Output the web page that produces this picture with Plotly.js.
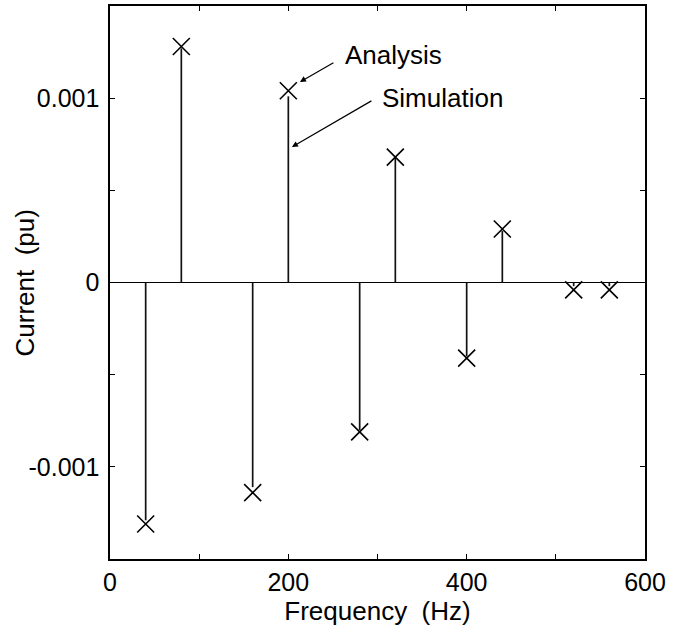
<!DOCTYPE html>
<html>
<head>
<meta charset="utf-8">
<script src="https://cdn.plot.ly/plotly-3.0.1.min.js"></script>
<style>html,body{margin:0;padding:0;background:#fff;}#chart{width:683px;height:631px;}</style>
</head>
<body>
<div id="chart"></div>
<script>
// Harmonic frequencies (Hz)
var frequency = [40, 80, 160, 200, 280, 320, 400, 440, 520, 560];
// Analysis values (pu) – X markers
var analysis = [-0.00131, 0.00128, -0.00114, 0.00104, -0.00081, 0.00068, -0.00041, 0.00029, -0.00004, -0.00004];
// Simulation values (pu) – stems
var simulation = [-0.00129, 0.00127, -0.00111, 0.00101, -0.00080, 0.00068, -0.00040, 0.00028, -0.00002, -0.00002];
// Y tick values and labels
var yTickVals = [-0.0015, -0.001, -0.0005, 0, 0.0005, 0.001, 0.0015];
var yTickText = ['', '-0.001', '', '0', '', '0.001', ''];
var xTickVals = [0, 100, 200, 300, 400, 500, 600];
var xTickText = ['0', '', '200', '', '400', '', '600'];

var stemX = [], stemY = [];
for (var i = 0; i < frequency.length; i++) {
  stemX.push(frequency[i], frequency[i], null);
  stemY.push(0, simulation[i], null);
}

var font = 'Liberation Sans, Arial, Helvetica, sans-serif';

var traces = [
  {
    x: stemX, y: stemY, mode: 'lines', type: 'scatter',
    line: {color: '#111', width: 1.7}, hoverinfo: 'skip', showlegend: false
  },
  {
    x: frequency, y: analysis, mode: 'markers', type: 'scatter',
    marker: {symbol: 'x-thin-open', size: 17, line: {color: '#000', width: 1.6}, color: '#000'},
    showlegend: false
  }
];

var axisCommon = {
  showgrid: false, showline: true, linecolor: '#000', linewidth: 1.6,
  mirror: 'ticks', ticks: 'inside', ticklen: 5, tickwidth: 1.3, tickcolor: '#000',
  tickfont: {family: font, size: 25, color: '#000'}
};

var layout = {
  width: 683, height: 631,
  margin: {l: 110, r: 38, t: 6, b: 72},
  paper_bgcolor: '#fff', plot_bgcolor: '#fff',
  showlegend: false,
  xaxis: Object.assign({}, axisCommon, {
    range: [0, 600], tickmode: 'array', tickvals: xTickVals, ticktext: xTickText,
    zeroline: false, ticklabelstandoff: 0,
    title: {text: 'Frequency\u00a0 (Hz)', font: {family: font, size: 26, color: '#000'}, standoff: 6}
  }),
  yaxis: Object.assign({}, axisCommon, {
    range: [-0.0015, 0.0015], tickmode: 'array', tickvals: yTickVals, ticktext: yTickText,
    zeroline: true, zerolinecolor: '#000', zerolinewidth: 1.5, ticklabelstandoff: 4
  }),
  annotations: [
    {xref: 'paper', yref: 'paper', x: -0.159, y: 0.5, xanchor: 'center', yanchor: 'middle',
     text: 'Current\u00a0 (pu)', textangle: -90,
     showarrow: false, font: {family: font, size: 26, color: '#000'}},
    {x: 213, y: 0.001088, xref: 'x', yref: 'y', text: '', showarrow: true, ax: 35, ay: -20,
     arrowhead: 2, arrowsize: 1, arrowwidth: 1.2, arrowcolor: '#000'},
    {x: 261, y: 0.001234, xref: 'x', yref: 'y', text: 'Analysis', showarrow: false, xanchor: 'left',
     font: {family: font, size: 26, color: '#000'}},
    {x: 204, y: 0.000735, xref: 'x', yref: 'y', text: '', showarrow: true, ax: 81, ay: -47,
     arrowhead: 2, arrowsize: 1, arrowwidth: 1.2, arrowcolor: '#000'},
    {x: 303, y: 0.001001, xref: 'x', yref: 'y', text: 'Simulation', showarrow: false, xanchor: 'left',
     font: {family: font, size: 26, color: '#000'}}
  ]
};

Plotly.newPlot('chart', traces, layout, {displayModeBar: false, staticPlot: true});
</script>
</body>
</html>
